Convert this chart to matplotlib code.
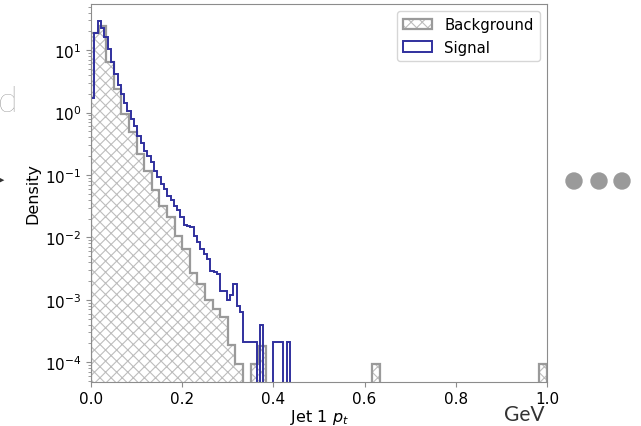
import numpy as np
import matplotlib
matplotlib.use("Agg")
import matplotlib.pyplot as plt
from matplotlib.patches import Patch, Ellipse

# background: 60 bins over [0, 1], density values
bkg_edges = np.linspace(0.0, 1.0, 61)
bkg_density = np.zeros(60)
bkg_density[:23] = [19, 24, 6.4, 2.4, 0.94, 0.49, 0.22, 0.117, 0.058, 0.032,
                    0.021, 0.0105, 0.0064, 0.0027, 0.0018, 0.001, 0.0007,
                    5.2e-4, 1.9e-4, 9.3e-5, 0, 9.3e-5, 1.8e-4]
bkg_density[37] = 9.3e-5
bkg_density[59] = 9.3e-5

# signal: 60 bins over [0, 0.436]
sig_edges = np.linspace(0.0, 0.436, 61)
sig_density = [1.7, 19, 29, 23, 16, 10.5, 6.5, 4.2, 2.8, 2.0,
               1.45, 1.05, 0.78, 0.6, 0.42, 0.33, 0.245, 0.2, 0.16, 0.117,
               0.092, 0.071, 0.059, 0.046, 0.039, 0.032, 0.027, 0.021, 0.016, 0.015,
               0.0148, 0.0105, 0.0083, 0.0065, 0.0054, 0.0045, 0.0029, 0.0028, 0.0026, 0.0014,
               0.0014, 0.001, 0.0012, 0.0018, 0.0008, 0.00063, 0.00021, 0.00021, 0.00021, 0.00021,
               0, 0.0004, 0, 0, 0, 0.00021, 0.00021, 0.00021, 0, 0.00021]

plt.rcParams['font.size'] = 11
plt.rcParams['hatch.linewidth'] = 0.8

fig = plt.figure(figsize=(6.41, 4.27), dpi=100)
ax = fig.add_axes([91/641, 1 - 383/427, 456/641, 378/427])

bkg_centers = 0.5 * (bkg_edges[:-1] + bkg_edges[1:])
sig_centers = 0.5 * (sig_edges[:-1] + sig_edges[1:])

ax.hist(bkg_centers, bins=bkg_edges, weights=bkg_density, histtype='stepfilled',
        facecolor='white', edgecolor='#bdbdbd', hatch='xxx', linewidth=0, log=True)
ax.hist(bkg_centers, bins=bkg_edges, weights=bkg_density, histtype='step',
        color='#9a9a9a', linewidth=1.6, log=True)
ax.hist(sig_centers, bins=sig_edges, weights=sig_density, histtype='step',
        color='#30309e', linewidth=1.4, log=True)

ax.set_xlim(0, 1.0)
ax.set_ylim(4.8e-5, 55)
ax.set_xlabel("Jet 1 $p_t$", fontsize=11.5, labelpad=1)
ax.set_ylabel("Density", fontsize=11.5, labelpad=3)
for s in ax.spines.values():
    s.set_color('#8c8c8c')
ax.tick_params(colors='#8c8c8c', labelcolor='black', which='both')
ax.tick_params(axis='x', pad=3)

bkg_handle = (Patch(facecolor='white', edgecolor='#bdbdbd', hatch='xxx', linewidth=0),
              Patch(fill=False, edgecolor='#9a9a9a', linewidth=1.6))
sig_handle = Patch(facecolor='white', edgecolor='#30309e', linewidth=1.4)
ax.legend([bkg_handle, sig_handle], ["Background", "Signal"], loc='upper right',
          fontsize=10.7)

# surrounding slide fragments
fig.text(-0.004, 1 - 112/427, "d", fontsize=26, color='#7a7a7a',
         family='Lato', weight='light')
fig.text(-0.002, 1 - 180/427, "\u25b6", fontsize=5, color='#333333', va='center')
for cx in [574, 599, 622]:
    fig.add_artist(Ellipse((cx/641, 1 - 182/427), 16/641, 16/427,
                           color='#9a9a9a', transform=fig.transFigure))
fig.text(524/641, 1 - 415/427, "GeV", fontsize=15, color='#333333',
         family='Lato', ha='center', va='center')

fig.savefig("out.png", dpi=100)
